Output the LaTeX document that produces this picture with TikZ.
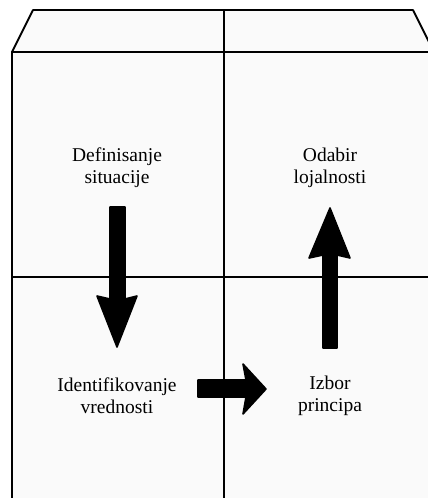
\documentclass[tikz,border=0pt]{standalone}
\usepackage{fontspec}
\setmainfont{Liberation Serif}
\definecolor{facegray}{HTML}{FAFAFA}
\tikzset{
  outer/.style={draw=black, line width=1.8pt, fill=facegray, line join=round},
  inner/.style={draw=black, line width=1.3pt},
  blockarrow/.style={fill=black, draw=black, line width=1.6pt, line join=round},
  label/.style={align=center, font=\fontsize{19.5}{22}\selectfont, inner sep=0pt}
}
\begin{document}
\begin{tikzpicture}[x=1pt,y=-1pt]
\useasboundingbox (0,0) rectangle (428,498);
\clip (0,0) rectangle (428,498);
\fill[white] (0,0) rectangle (428,498);
% front face
\draw[outer] (12,52) rectangle (434,520);
% top face
\draw[outer] (12,52) -- (33,10) -- (413,10) -- (434,52) -- cycle;
% dividing lines
\draw[inner] (224,10) -- (224,520);
\draw[inner] (12,277) -- (434,277);
% labels
\node[label] (def) at (117,167.5) {Definisanje\\situacije};
\node[label] (oda) at (330,167.5) {Odabir\\lojalnosti};
\node[label] (ide) at (117,395.5) {Identifikovanje\\vrednosti};
\node[label] (izb) at (330,395.5) {Izbor\\principa};
% block arrows
\draw[blockarrow] (110,207) -- (125,207) -- (125,299) -- (137,296) -- (117,347) -- (97,296) -- (110,299) -- cycle;
\draw[blockarrow] (323,348) -- (337,348) -- (337,255) -- (350,258) -- (330,208) -- (309,258) -- (323,255) -- cycle;
\draw[blockarrow] (198,380) -- (246,380) -- (243,364) -- (266,389) -- (243,414) -- (246,397) -- (198,397) -- cycle;
\end{tikzpicture}
\end{document}
